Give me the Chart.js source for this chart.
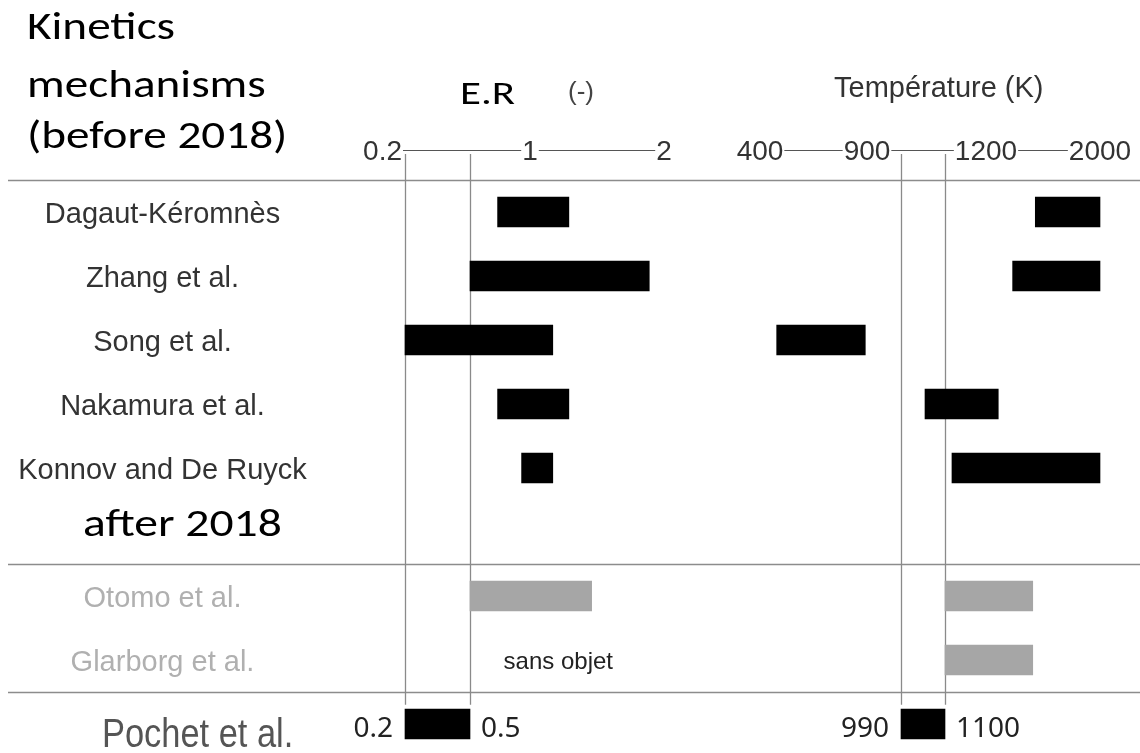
<!DOCTYPE html>
<html><head><meta charset="utf-8">
<script src="https://cdn.jsdelivr.net/npm/chart.js@4.4.0/dist/chart.umd.min.js"></script>
<style>html,body{margin:0;padding:0;background:#fff;}#wrap{width:1140px;height:753px;position:relative;background:#fff;}</style>
</head><body><div id="wrap"><canvas id="c" width="1140" height="753"></canvas></div>
<script>
// ---- data ----
const rowLabels = ['Dagaut-Kéromnès','Zhang et al.','Song et al.','Nakamura et al.','Konnov and De Ruyck','','Otomo et al.','Glarborg et al.','Pochet et al.'];
const rowGroup  = ['before','before','before','before','before','heading','after','after','reference'];
const erLow  = [0.73, 0.5, 0.2, 0.73, 0.93, null, 0.5, null, 0.2];
const erHigh = [1.29, 1.89, 1.17, 1.29, 1.17, null, 1.46, null, 0.5];
const tLow   = [1546, 1387, 478, 1050, 1117, null, 1100, 1100, 990];
const tHigh  = [2000, 2000, 892, 1286, 2000, null, 1528, 1528, 1100];
const erTicks = ['0.2','1','2'];
const tTicks  = ['400','900','1200','2000'];
const erGuides = [0.2, 0.5];
const tGuides  = [990, 1100];
const titleLines = ['Kinetics','mechanisms','(before 2018)'];
const afterHeading = 'after 2018';
const noteText = 'sans objet';

// ---- schematic axis calibration (value -> axis unit) ----
const ER_CAL = [[0.2,405],[0.5,470],[1,530],[2,664]];
const T_CAL  = [[400,760],[900,867],[990,901],[1100,945],[1200,986],[2000,1100]];
function place(v, cal){
  for (let i=0;i<cal.length-1;i++){
    const [v0,p0]=cal[i],[v1,p1]=cal[i+1];
    if (v<=v1 || i===cal.length-2) return p0+(v-v0)*(p1-p0)/(v1-v0);
  }
}
const BLACK='#000000', GRAY='#a6a6a6';
const HELV = '"Liberation Sans", Arial, Helvetica, sans-serif';
const CAL  = 'Carlito, Calibri, "Open Sans", sans-serif';

const erData = rowLabels.map((_,i)=> erLow[i]==null?null:{x:[place(erLow[i],ER_CAL),place(erHigh[i],ER_CAL)],y:i}).filter(Boolean);
const tData  = rowLabels.map((_,i)=> tLow[i]==null?null:{x:[place(tLow[i],T_CAL),place(tHigh[i],T_CAL)],y:i}).filter(Boolean);
const barColor = c => (c.raw && rowGroup[c.raw.y]==='after') ? GRAY : BLACK;

function seg(ctx,x1,y1,x2,y2){ctx.beginPath();ctx.moveTo(x1,y1);ctx.lineTo(x2,y2);ctx.stroke();}
// text with optional horizontal stretch
function txt(ctx,s,x,y,font,color,align,sx){
  sx = sx||1;
  ctx.save();
  ctx.font=font; ctx.fillStyle=color; ctx.textAlign=align||'left'; ctx.textBaseline='alphabetic';
  ctx.translate(x,y); ctx.scale(sx,1); ctx.fillText(s,0,0);
  ctx.restore();
}

const schematic = {
  id:'schematic',
  beforeDatasetsDraw(chart){
    const {ctx, scales:{x,y}} = chart;
    ctx.save();
    ctx.strokeStyle='#8c8c8c'; ctx.lineWidth=1.5;
    for (const v of [-0.5, 5.5, 7.5]) { const py=Math.round(y.getPixelForValue(v))+0.5; seg(ctx,8,py,chart.width,py); }
    ctx.strokeStyle='#8a8a8a'; ctx.lineWidth=1.3;
    const yb = y.getPixelForValue(7.7);
    for (const g of erGuides){ const px=Math.round(x.getPixelForValue(place(g,ER_CAL)))+0.5; seg(ctx,px,154,px,yb); }
    for (const g of tGuides){ const px=Math.round(x.getPixelForValue(place(g,T_CAL)))+0.5; seg(ctx,px,154,px,yb); }
    ctx.restore();
  },
  afterDraw(chart){
    const {ctx, scales:{x,y}} = chart;
    ctx.save();
    // title
    [39,97,148].forEach((b,i)=>txt(ctx,titleLines[i],27,b,'39px '+CAL,'#000','left',1.21));
    // axis titles
    txt(ctx,'E.R',460,104,'33px '+CAL,'#000','left',1.3);
    txt(ctx,'(-)',568,100,'26px '+HELV,'#444','left');
    txt(ctx,'Température (K)',834,97,'29px '+HELV,'#333','left');
    // tick rows
    ctx.font='28px '+HELV;
    const drawTicks=(ticks,cal,firstRight)=>{
      const boxes=ticks.map((t,i)=>{
        const px=x.getPixelForValue(place(parseFloat(t),cal));
        const w=ctx.measureText(t).width;
        const left = (i===0 && firstRight) ? px-3-w : px-w/2;
        return {t,left,right:left+w};
      });
      boxes.forEach(b=>txt(ctx,b.t,b.left,160,'28px '+HELV,'#333','left'));
      ctx.strokeStyle='#555'; ctx.lineWidth=1;
      for(let i=0;i<boxes.length-1;i++) seg(ctx,boxes[i].right+1,150.5,boxes[i+1].left-1,150.5);
    };
    drawTicks(erTicks,ER_CAL,true);
    drawTicks(tTicks,T_CAL,false);
    // row labels
    rowLabels.forEach((lab,i)=>{
      if(!lab || rowGroup[i]==='reference') return;
      txt(ctx,lab,162.5,y.getPixelForValue(i)+10.5,'29px '+HELV, rowGroup[i]==='after' ? '#b0b0b0' : '#333','center');
    });
    // heading after 2018
    txt(ctx,afterHeading,83,y.getPixelForValue(5)+4,'39px '+CAL,'#000','left',1.22);
    // sans objet note in Glarborg row (E.R column)
    txt(ctx,noteText,x.getPixelForValue(place(0.78,ER_CAL)),y.getPixelForValue(7)+9,'24px '+HELV,'#222','left');
    // reference row
    const r = rowGroup.indexOf('reference');
    const ry = y.getPixelForValue(r);
    txt(ctx,rowLabels[r],102,ry+23,'40px '+HELV,'#555','left',0.86);
    const VF='28px "Noto Sans", sans-serif', by=ry+13;
    txt(ctx,String(erLow[r]), x.getPixelForValue(place(erLow[r],ER_CAL))-12, by, VF,'#222','right');
    txt(ctx,String(tLow[r]),  x.getPixelForValue(place(tLow[r],T_CAL))-12, by, VF,'#222','right');
    txt(ctx,String(erHigh[r]), x.getPixelForValue(place(erHigh[r],ER_CAL))+11, by, VF,'#222','left');
    txt(ctx,String(tHigh[r]),  x.getPixelForValue(place(tHigh[r],T_CAL))+11, by, VF,'#222','left');
    ctx.restore();
  }
};

new Chart(document.getElementById('c'),{
  type:'bar',
  data:{datasets:[
    {label:'E.R (-)', data:erData, backgroundColor:barColor, grouped:false, barThickness:30, borderWidth:0},
    {label:'Température (K)', data:tData, backgroundColor:barColor, grouped:false, barThickness:30, borderWidth:0}
  ]},
  options:{
    indexAxis:'y', responsive:false, animation:false, devicePixelRatio:1,
    layout:{padding:{top:180,left:0,right:0,bottom:0}},
    scales:{
      x:{type:'linear',min:0,max:1140,display:false,offset:false},
      y:{type:'linear',min:-0.5,max:8.453,reverse:true,display:false,offset:false}
    },
    plugins:{legend:{display:false},tooltip:{enabled:false}}
  },
  plugins:[schematic]
});
</script></body></html>
